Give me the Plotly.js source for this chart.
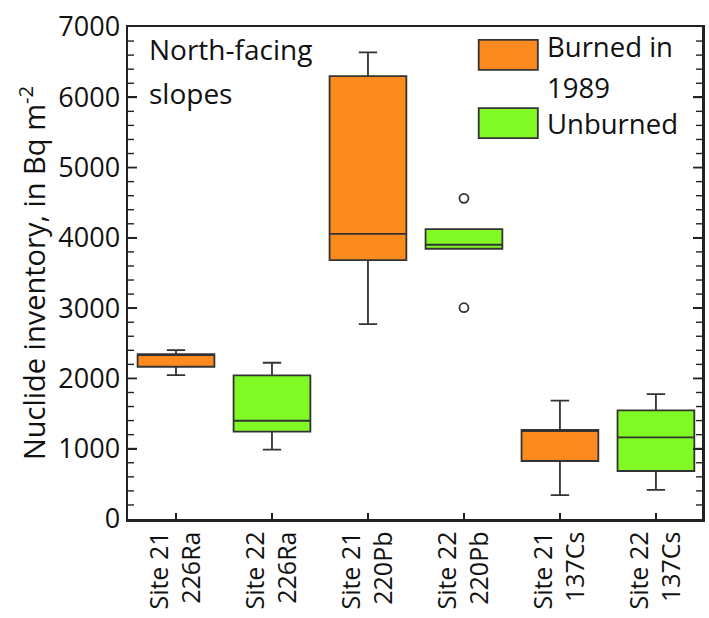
<!DOCTYPE html>
<html>
<head>
<meta charset="utf-8">
<script src="https://cdn.plot.ly/plotly-3.0.1.min.js"></script>
<style>html,body{margin:0;padding:0;background:#fff;}#chart{width:709px;height:618px;}</style>
</head>
<body>
<div id="chart"></div>
<script>
// Categories (x tick labels)
const categories = ["Site 21<br>226Ra", "Site 22<br>226Ra", "Site 21<br>220Pb", "Site 22<br>220Pb", "Site 21<br>137Cs", "Site 22<br>137Cs"];

// Burned in 1989 (Site 21)
const burnedX = [categories[0], categories[2], categories[4]];
const burnedLower = [2048, 2774, 341];
const burnedQ1 = [2166, 3684, 825];
const burnedMedian = [2347, 4058, 1266];
const burnedQ3 = [2347, 6302, 1266];
const burnedUpper = [2404, 6639, 1683];

// Unburned (Site 22)
const unburnedX = [categories[1], categories[3], categories[5]];
const unburnedLower = [986, 3845, 413];
const unburnedQ1 = [1242, 3845, 683];
const unburnedMedian = [1398, 3902, 1162];
const unburnedQ3 = [2044, 4125, 1546];
const unburnedUpper = [2223, 4125, 1778];

// Outliers
const outlierX = [categories[3], categories[3]];
const outlierY = [4562, 3006];

// Y-axis tick positions (major every 1000, minor every 200)
const yMinorTicks = [];
for (let v = 200; v < 7000; v += 200) yMinorTicks.push(v);

const orange = "#FC8A1E";
const green = "#80F924";
const edge = "#333333";
const axisColor = "#222";
const font = "Open Sans, sans-serif";

const traces = [
  {
    type: "box", name: "Burned in 1989", x: burnedX,
    q1: burnedQ1, median: burnedMedian, q3: burnedQ3,
    lowerfence: burnedLower, upperfence: burnedUpper,
    fillcolor: orange, line: {color: edge, width: 1.8},
    width: 0.8, whiskerwidth: 0.24, boxpoints: false, showlegend: false,
    hoverinfo: "skip"
  },
  {
    type: "box", name: "Unburned", x: unburnedX,
    q1: unburnedQ1, median: unburnedMedian, q3: unburnedQ3,
    lowerfence: unburnedLower, upperfence: unburnedUpper,
    fillcolor: green, line: {color: edge, width: 1.8},
    width: 0.8, whiskerwidth: 0.24, boxpoints: false, showlegend: false,
    hoverinfo: "skip"
  },
  {
    type: "scatter", mode: "markers", x: outlierX, y: outlierY,
    marker: {symbol: "circle-open", size: 9, color: edge, line: {width: 1.8}},
    showlegend: false, hoverinfo: "skip"
  }
];

// tick marks along the left and right y-axis edges (y in data units, x in paper units)
const plotW = 709 - 128 - 7;
const tickShapes = [];
yMinorTicks.forEach(function (v) {
  const len = (v % 1000 === 0 ? 9 : 6) / plotW;
  const w = v % 1000 === 0 ? 1.8 : 1.4;
  tickShapes.push({type: "line", xref: "paper", yref: "y", x0: 0, x1: len, y0: v, y1: v, layer: "below", line: {color: axisColor, width: w}});
  tickShapes.push({type: "line", xref: "paper", yref: "y", x0: 1 - len, x1: 1, y0: v, y1: v, layer: "below", line: {color: axisColor, width: w}});
});

const layout = {
  width: 709, height: 618,
  margin: {l: 128, r: 7, t: 27, b: 99, pad: 0},
  paper_bgcolor: "#fff", plot_bgcolor: "#fff",
  boxmode: "overlay",
  font: {family: font, size: 26, color: "#111"},
  xaxis: {
    type: "category", categoryorder: "array", categoryarray: categories,
    range: [-0.5, 5.48],
    showline: true, linecolor: axisColor, linewidth: 2.5, mirror: true,
    ticks: "inside", ticklen: 6, tickcolor: axisColor, tickwidth: 1.5,
    tickangle: -90, tickfont: {family: font, size: 25, color: "#111"},
    showgrid: false, zeroline: false, fixedrange: true
  },
  yaxis: {
    range: [0, 7000], dtick: 1000, tick0: 0, tickmode: "linear",
    showline: true, linecolor: axisColor, linewidth: 2.5, mirror: "ticks",
    ticks: "inside", ticklen: 9, tickcolor: axisColor, tickwidth: 1.8,
    tickfont: {family: font, size: 27, color: "#111"},
    showgrid: false, zeroline: false, fixedrange: true,
    title: {text: "Nuclide inventory, in Bq m<sup>-2</sup>", font: {family: font, size: 29, color: "#111"}, standoff: 4}
  },
  shapes: tickShapes.concat([
    {type: "rect", xref: "paper", yref: "paper", x0: 0.611, x1: 0.714, y0: 0.913, y1: 0.974, fillcolor: orange, line: {color: edge, width: 1.8}},
    {type: "rect", xref: "paper", yref: "paper", x0: 0.611, x1: 0.714, y0: 0.774, y1: 0.835, fillcolor: green, line: {color: edge, width: 1.8}}
  ]),
  annotations: [
    {xref: "paper", yref: "paper", x: 0.033, y: 0.955, xanchor: "left", yanchor: "middle", text: "North-facing", showarrow: false, font: {family: font, size: 28, color: "#111"}},
    {xref: "paper", yref: "paper", x: 0.033, y: 0.866, xanchor: "left", yanchor: "middle", text: "slopes", showarrow: false, font: {family: font, size: 28, color: "#111"}},
    {xref: "paper", yref: "paper", x: 0.727, y: 0.96, xanchor: "left", yanchor: "middle", text: "Burned in", showarrow: false, font: {family: font, size: 27.5, color: "#111"}},
    {xref: "paper", yref: "paper", x: 0.727, y: 0.878, xanchor: "left", yanchor: "middle", text: "1989", showarrow: false, font: {family: font, size: 27.5, color: "#111"}},
    {xref: "paper", yref: "paper", x: 0.727, y: 0.803, xanchor: "left", yanchor: "middle", text: "Unburned", showarrow: false, font: {family: font, size: 27.5, color: "#111"}}
  ]
};

Plotly.newPlot("chart", traces, layout, {displayModeBar: false, staticPlot: true});
</script>
</body>
</html>
